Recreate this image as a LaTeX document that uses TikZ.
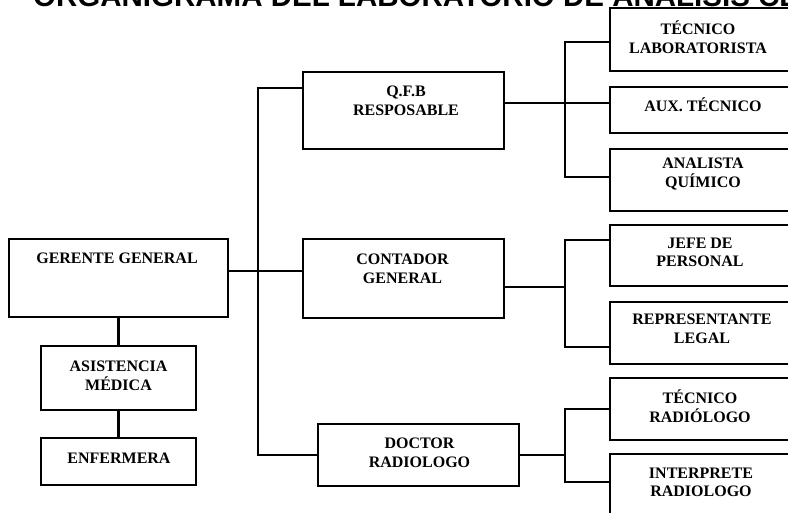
\documentclass[tikz,border=0pt]{standalone}
\usepackage{fontspec}
\setmainfont{Liberation Serif}
\newfontfamily\titlefont{Liberation Sans}
\begin{document}
\begin{tikzpicture}[x=1pt,y=-1pt,
  box/.style={draw, line width=2.3pt, rectangle, inner sep=0pt},
  lbl/.style={font=\bfseries\fontsize{16}{18.5}\selectfont, align=center, inner sep=0pt},
  conn/.style={line width=2.2pt}]
\useasboundingbox (0,0) rectangle (788,512);
\clip (0,0) rectangle (788,512);
% title (cut off at top, as in the reference)
\node[anchor=base west, inner sep=0pt, font=\titlefont\bfseries\fontsize{29.5}{30}\selectfont] (title) at (33,6) {ORGANIGRAMA DEL LABORATORIO DE ANÁLISIS CLÍNICOS};
% boxes
\node[box, minimum width=219pt, minimum height=78pt] (g) at (118.5,278) {};
\node[box, minimum width=155pt, minimum height=64pt] (a) at (118.5,378) {};
\node[box, minimum width=155pt, minimum height=47pt] (e) at (118.5,461.5) {};
\node[box, minimum width=201pt, minimum height=77pt] (q) at (403.5,110.5) {};
\node[box, minimum width=201pt, minimum height=79pt] (c) at (403.5,278.5) {};
\node[box, minimum width=201pt, minimum height=62pt] (d) at (418.5,455) {};
\node[box, minimum width=182pt, minimum height=63pt] (tl) at (701,39.5) {};
\node[box, minimum width=182pt, minimum height=46pt] (ax) at (701,110) {};
\node[box, minimum width=182pt, minimum height=62pt] (an) at (701,180) {};
\node[box, minimum width=182pt, minimum height=61pt] (jp) at (701,255.5) {};
\node[box, minimum width=182pt, minimum height=62pt] (rl) at (701,333) {};
\node[box, minimum width=182pt, minimum height=62pt] (tr) at (701,409) {};
\node[box, minimum width=182pt, minimum height=76pt] (ir) at (701,492) {};
% labels
\node[lbl] (gt) at (117,258) {GERENTE GENERAL};
\node[lbl] (at) at (118.5,376) {ASISTENCIA\\MÉDICA};
\node[lbl] (et) at (119,458) {ENFERMERA};
\node[lbl] (qt) at (406,101) {Q.F.B\\RESPOSABLE};
\node[lbl] (ct) at (402.5,269) {CONTADOR\\GENERAL};
\node[lbl] (dt) at (419.5,453) {DOCTOR\\RADIOLOGO};
\node[lbl] (tlt) at (698,37) {TÉCNICO\\LABORATORISTA};
\node[lbl] (axt) at (703,105) {AUX. TÉCNICO};
\node[lbl] (ant) at (703,174) {ANALISTA\\QUÍMICO};
\node[lbl] (jpt) at (700,252.5) {JEFE DE\\PERSONAL};
\node[lbl] (rlt) at (702,329) {REPRESENTANTE\\LEGAL};
\node[lbl] (trt) at (700,406) {TÉCNICO\\RADIÓLOGO};
\node[lbl] (irt) at (701,482.5) {INTERPRETE\\RADIOLOGO};
% junction coordinates
\coordinate (t1) at (258,88);
\coordinate (tg) at (258,271);
\coordinate (t2) at (258,455);
\coordinate (bq) at (565,103);
\coordinate (bq1) at (565,42);
\coordinate (bq2) at (565,177);
\coordinate (bc) at (565,287);
\coordinate (bc1) at (565,240);
\coordinate (bc2) at (565,347);
\coordinate (bd) at (565,455);
\coordinate (bd1) at (565,409);
\coordinate (bd2) at (565,482);
% connectors
\draw[conn] (g.south) -- (a.north);
\draw[conn] (a.south) -- (e.north);
\draw[conn] (q.west |- t1) -- (t1) -- (t2) -- (d.west |- t2);
\draw[conn] (g.east |- tg) -- (c.west |- tg);
\draw[conn] (q.east |- bq) -- (ax.west |- bq);
\draw[conn] (tl.west |- bq1) -- (bq1) -- (bq2) -- (an.west |- bq2);
\draw[conn] (c.east |- bc) -- (bc);
\draw[conn] (jp.west |- bc1) -- (bc1) -- (bc2) -- (rl.west |- bc2);
\draw[conn] (d.east |- bd) -- (bd);
\draw[conn] (tr.west |- bd1) -- (bd1) -- (bd2) -- (ir.west |- bd2);
\end{tikzpicture}
\end{document}
